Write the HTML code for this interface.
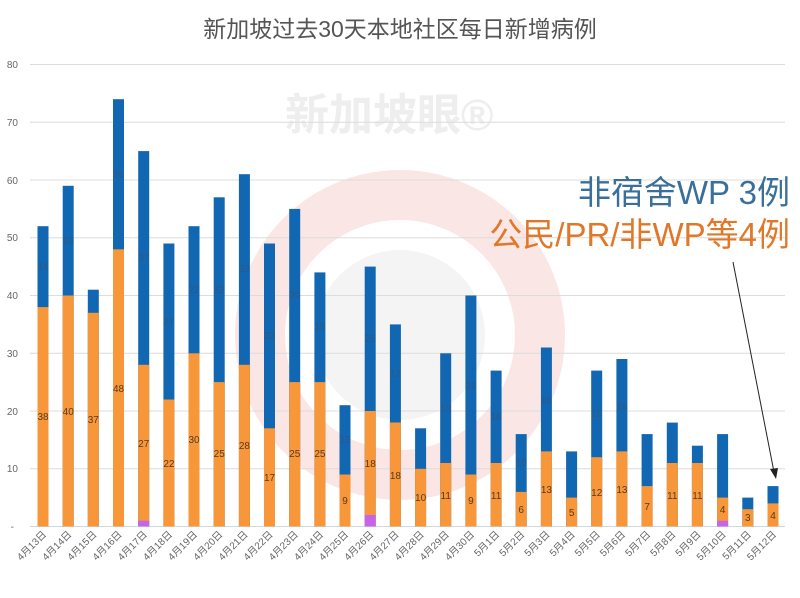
<!DOCTYPE html>
<html><head><meta charset="utf-8"><style>
html,body{margin:0;padding:0;background:#fff;}
svg{display:block;font-family:"Liberation Sans","Noto Sans CJK SC",sans-serif;}
.ol{font-size:10px;fill:#5a3a1a;text-anchor:middle;}
.bl{font-size:10px;fill:#2a5a88;text-anchor:middle;}
.xl{font-size:10px;fill:#666;text-anchor:end;}
.yl{font-size:10px;fill:#666;text-anchor:end;}
</style></head><body>
<svg width="800" height="598" viewBox="0 0 800 598">
<rect width="800" height="598" fill="#fff"/>
<!-- watermark -->
<circle cx="400" cy="335" r="140" fill="none" stroke="#fbe6e6" stroke-width="50"/>
<circle cx="400" cy="335" r="85" fill="#f4f4f4"/>
<text x="285" y="130" font-size="44" fill="#eeeeee" font-weight="bold">新加坡眼®</text>
<text x="400" y="37" font-size="23" fill="#555" text-anchor="middle">新加坡过去30天本地社区每日新增病例</text>
<!-- gridlines -->
<g stroke="#dcdcdc" stroke-width="1">
<line x1="30" x2="785" y1="64.5" y2="64.5"/><line x1="30" x2="785" y1="122.3" y2="122.3"/>
<line x1="30" x2="785" y1="180" y2="180"/><line x1="30" x2="785" y1="237.8" y2="237.8"/>
<line x1="30" x2="785" y1="295.5" y2="295.5"/><line x1="30" x2="785" y1="353.3" y2="353.3"/>
<line x1="30" x2="785" y1="411" y2="411"/><line x1="30" x2="785" y1="468.8" y2="468.8"/>
<line x1="30" x2="785" y1="526.5" y2="526.5" stroke="#cfd8e0"/>
</g>
<g class="yl">
<text x="18" y="68">80</text><text x="18" y="126">70</text><text x="18" y="184">60</text>
<text x="18" y="241">50</text><text x="18" y="299">40</text><text x="18" y="357">30</text>
<text x="18" y="415">20</text><text x="18" y="472">10</text><text x="14" y="530">-</text>
</g>
<g id="bars">
<g transform="translate(43,0)"><rect x="-5.5" y="226.2" width="11" height="300.3" fill="#1167b1"/><rect x="-5.5" y="307.1" width="11" height="219.4" fill="#f7973a"/><text class="ol" y="420">38</text><text class="bl" y="270">14</text></g>
<g transform="translate(68.2,0)"><rect x="-5.5" y="185.8" width="11" height="340.7" fill="#1167b1"/><rect x="-5.5" y="295.5" width="11" height="231" fill="#f7973a"/><text class="ol" y="415">40</text><text class="bl" y="244">19</text></g>
<g transform="translate(93.3,0)"><rect x="-5.5" y="289.7" width="11" height="236.8" fill="#1167b1"/><rect x="-5.5" y="312.8" width="11" height="213.7" fill="#f7973a"/><text class="ol" y="423">37</text></g>
<g transform="translate(118.5,0)"><rect x="-5.5" y="99.2" width="11" height="427.3" fill="#1167b1"/><rect x="-5.5" y="249.3" width="11" height="277.2" fill="#f7973a"/><text class="ol" y="392">48</text><text class="bl" y="178">26</text></g>
<g transform="translate(143.7,0)"><rect x="-5.5" y="151.1" width="11" height="375.4" fill="#1167b1"/><rect x="-5.5" y="364.8" width="11" height="161.7" fill="#f7973a"/><rect x="-5.5" y="520.7" width="11" height="5.8" fill="#c765e8"/><text class="ol" y="447">27</text><text class="bl" y="261">37</text></g>
<g transform="translate(168.9,0)"><rect x="-5.5" y="243.5" width="11" height="283" fill="#1167b1"/><rect x="-5.5" y="399.5" width="11" height="127" fill="#f7973a"/><text class="ol" y="467">22</text><text class="bl" y="325">27</text></g>
<g transform="translate(194,0)"><rect x="-5.5" y="226.2" width="11" height="300.3" fill="#1167b1"/><rect x="-5.5" y="353.3" width="11" height="173.2" fill="#f7973a"/><text class="ol" y="443">30</text><text class="bl" y="293">22</text></g>
<g transform="translate(219.2,0)"><rect x="-5.5" y="197.3" width="11" height="329.2" fill="#1167b1"/><rect x="-5.5" y="382.1" width="11" height="144.4" fill="#f7973a"/><text class="ol" y="457">25</text><text class="bl" y="293">32</text></g>
<g transform="translate(244.4,0)"><rect x="-5.5" y="174.2" width="11" height="352.3" fill="#1167b1"/><rect x="-5.5" y="364.8" width="11" height="161.7" fill="#f7973a"/><text class="ol" y="449">28</text><text class="bl" y="272">33</text></g>
<g transform="translate(269.5,0)"><rect x="-5.5" y="243.5" width="11" height="283" fill="#1167b1"/><rect x="-5.5" y="428.3" width="11" height="98.2" fill="#f7973a"/><text class="ol" y="481">17</text><text class="bl" y="339">32</text></g>
<g transform="translate(294.7,0)"><rect x="-5.5" y="208.9" width="11" height="317.6" fill="#1167b1"/><rect x="-5.5" y="382.1" width="11" height="144.4" fill="#f7973a"/><text class="ol" y="457">25</text><text class="bl" y="298">30</text></g>
<g transform="translate(319.9,0)"><rect x="-5.5" y="272.4" width="11" height="254.1" fill="#1167b1"/><rect x="-5.5" y="382.1" width="11" height="144.4" fill="#f7973a"/><text class="ol" y="457">25</text><text class="bl" y="330">19</text></g>
<g transform="translate(345,0)"><rect x="-5.5" y="405.2" width="11" height="121.3" fill="#1167b1"/><rect x="-5.5" y="474.5" width="11" height="52" fill="#f7973a"/><text class="ol" y="504">9</text><text class="bl" y="443">12</text></g>
<g transform="translate(370.2,0)"><rect x="-5.5" y="266.6" width="11" height="259.9" fill="#1167b1"/><rect x="-5.5" y="411" width="11" height="115.5" fill="#f7973a"/><rect x="-5.5" y="515" width="11" height="11.5" fill="#c765e8"/><text class="ol" y="467">18</text><text class="bl" y="342">25</text></g>
<g transform="translate(395.4,0)"><rect x="-5.5" y="324.4" width="11" height="202.1" fill="#1167b1"/><rect x="-5.5" y="422.5" width="11" height="104" fill="#f7973a"/><text class="ol" y="479">18</text><text class="bl" y="377">17</text></g>
<g transform="translate(420.6,0)"><rect x="-5.5" y="428.3" width="11" height="98.2" fill="#1167b1"/><rect x="-5.5" y="468.8" width="11" height="57.7" fill="#f7973a"/><text class="ol" y="501">10</text></g>
<g transform="translate(445.7,0)"><rect x="-5.5" y="353.3" width="11" height="173.2" fill="#1167b1"/><rect x="-5.5" y="463" width="11" height="63.5" fill="#f7973a"/><text class="ol" y="499">11</text><text class="bl" y="412">19</text></g>
<g transform="translate(470.9,0)"><rect x="-5.5" y="295.5" width="11" height="231" fill="#1167b1"/><rect x="-5.5" y="474.5" width="11" height="52" fill="#f7973a"/><text class="ol" y="504">9</text><text class="bl" y="389">31</text></g>
<g transform="translate(496.1,0)"><rect x="-5.5" y="370.6" width="11" height="155.9" fill="#1167b1"/><rect x="-5.5" y="463" width="11" height="63.5" fill="#f7973a"/><text class="ol" y="499">11</text><text class="bl" y="420">16</text></g>
<g transform="translate(521.2,0)"><rect x="-5.5" y="434.1" width="11" height="92.4" fill="#1167b1"/><rect x="-5.5" y="491.9" width="11" height="34.6" fill="#f7973a"/><text class="ol" y="513">6</text><text class="bl" y="466">10</text></g>
<g transform="translate(546.4,0)"><rect x="-5.5" y="347.5" width="11" height="179" fill="#1167b1"/><rect x="-5.5" y="451.4" width="11" height="75.1" fill="#f7973a"/><text class="ol" y="493">13</text><text class="bl" y="404">18</text></g>
<g transform="translate(571.6,0)"><rect x="-5.5" y="451.4" width="11" height="75.1" fill="#1167b1"/><rect x="-5.5" y="497.6" width="11" height="28.9" fill="#f7973a"/><text class="ol" y="516">5</text></g>
<g transform="translate(596.7,0)"><rect x="-5.5" y="370.6" width="11" height="155.9" fill="#1167b1"/><rect x="-5.5" y="457.2" width="11" height="69.3" fill="#f7973a"/><text class="ol" y="496">12</text><text class="bl" y="417">15</text></g>
<g transform="translate(621.9,0)"><rect x="-5.5" y="359" width="11" height="167.5" fill="#1167b1"/><rect x="-5.5" y="451.4" width="11" height="75.1" fill="#f7973a"/><text class="ol" y="493">13</text><text class="bl" y="410">16</text></g>
<g transform="translate(647.1,0)"><rect x="-5.5" y="434.1" width="11" height="92.4" fill="#1167b1"/><rect x="-5.5" y="486.1" width="11" height="40.4" fill="#f7973a"/><text class="ol" y="510">7</text></g>
<g transform="translate(672.3,0)"><rect x="-5.5" y="422.6" width="11" height="103.9" fill="#1167b1"/><rect x="-5.5" y="463" width="11" height="63.5" fill="#f7973a"/><text class="ol" y="499">11</text></g>
<g transform="translate(697.4,0)"><rect x="-5.5" y="445.7" width="11" height="80.8" fill="#1167b1"/><rect x="-5.5" y="463" width="11" height="63.5" fill="#f7973a"/><text class="ol" y="499">11</text></g>
<g transform="translate(722.6,0)"><rect x="-5.5" y="434.1" width="11" height="92.4" fill="#1167b1"/><rect x="-5.5" y="497.6" width="11" height="28.9" fill="#f7973a"/><rect x="-5.5" y="520.7" width="11" height="5.8" fill="#c765e8"/><text class="ol" y="513">4</text></g>
<g transform="translate(747.8,0)"><rect x="-5.5" y="497.6" width="11" height="28.9" fill="#1167b1"/><rect x="-5.5" y="509.2" width="11" height="17.3" fill="#f7973a"/><text class="ol" y="521">3</text></g>
<g transform="translate(773,0)"><rect x="-5.5" y="486.1" width="11" height="40.4" fill="#1167b1"/><rect x="-5.5" y="503.4" width="11" height="23.1" fill="#f7973a"/><text class="ol" y="519">4</text></g>
</g>
<g class="xl">
<text transform="translate(47,535) rotate(-45)">4月13日</text>
<text transform="translate(72.2,535) rotate(-45)">4月14日</text>
<text transform="translate(97.3,535) rotate(-45)">4月15日</text>
<text transform="translate(122.5,535) rotate(-45)">4月16日</text>
<text transform="translate(147.7,535) rotate(-45)">4月17日</text>
<text transform="translate(172.9,535) rotate(-45)">4月18日</text>
<text transform="translate(198,535) rotate(-45)">4月19日</text>
<text transform="translate(223.2,535) rotate(-45)">4月20日</text>
<text transform="translate(248.4,535) rotate(-45)">4月21日</text>
<text transform="translate(273.5,535) rotate(-45)">4月22日</text>
<text transform="translate(298.7,535) rotate(-45)">4月23日</text>
<text transform="translate(323.9,535) rotate(-45)">4月24日</text>
<text transform="translate(349,535) rotate(-45)">4月25日</text>
<text transform="translate(374.2,535) rotate(-45)">4月26日</text>
<text transform="translate(399.4,535) rotate(-45)">4月27日</text>
<text transform="translate(424.6,535) rotate(-45)">4月28日</text>
<text transform="translate(449.7,535) rotate(-45)">4月29日</text>
<text transform="translate(474.9,535) rotate(-45)">4月30日</text>
<text transform="translate(500.1,535) rotate(-45)">5月1日</text>
<text transform="translate(525.2,535) rotate(-45)">5月2日</text>
<text transform="translate(550.4,535) rotate(-45)">5月3日</text>
<text transform="translate(575.6,535) rotate(-45)">5月4日</text>
<text transform="translate(600.7,535) rotate(-45)">5月5日</text>
<text transform="translate(625.9,535) rotate(-45)">5月6日</text>
<text transform="translate(651.1,535) rotate(-45)">5月7日</text>
<text transform="translate(676.3,535) rotate(-45)">5月8日</text>
<text transform="translate(701.4,535) rotate(-45)">5月9日</text>
<text transform="translate(726.6,535) rotate(-45)">5月10日</text>
<text transform="translate(751.8,535) rotate(-45)">5月11日</text>
<text transform="translate(777,535) rotate(-45)">5月12日</text>
</g>
<text x="790" y="204" font-size="33" fill="#3a6f9a" text-anchor="end">非宿舍WP 3例</text>
<text x="790" y="246" font-size="33" fill="#e0782a" text-anchor="end">公民/PR/非WP等4例</text>
<line x1="733" y1="262" x2="774" y2="472" stroke="#222" stroke-width="1"/>
<polygon points="776,479 770,469 778,468" fill="#222"/>
</svg>
</body></html>
